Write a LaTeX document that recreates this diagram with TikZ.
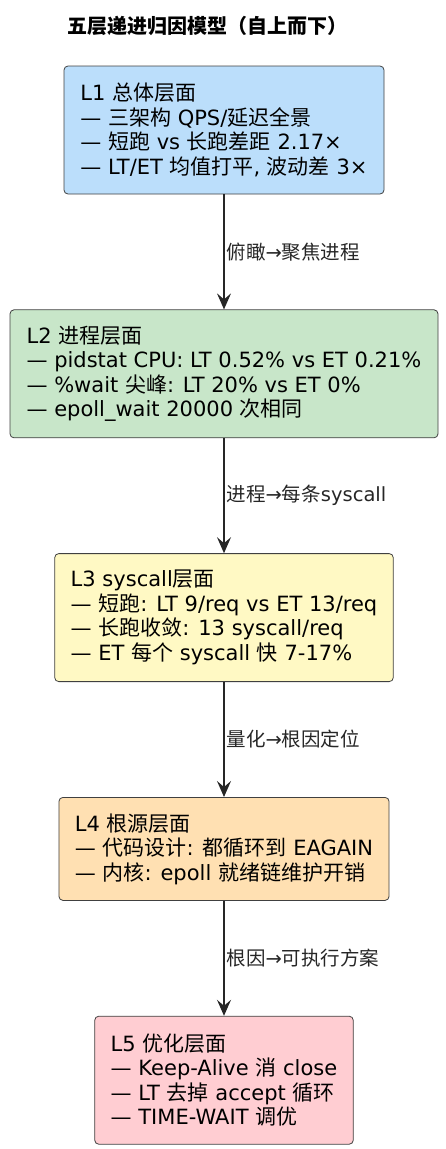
\documentclass[tikz,border=0pt]{standalone}
\usepackage{fontspec}
\setmainfont{DejaVu Sans}
\newfontfamily\zh{Noto Sans CJK SC}
\usetikzlibrary{positioning, arrows.meta}
\definecolor{layerblue}{HTML}{BBDEFB}
\definecolor{layergreen}{HTML}{C8E6C9}
\definecolor{layeryellow}{HTML}{FFF9C4}
\definecolor{layerorange}{HTML}{FFE0B2}
\definecolor{layerred}{HTML}{FFCDD2}
\newcommand\zhtxt[1]{{\zh #1}}
\newcommand\boxfont{\fontsize{21}{24.5}\selectfont}
\newcommand\labelfont{\fontsize{19.5}{22}\selectfont}
\tikzset{
node distance=115pt, % gap between two layers
layer/.style={draw=black!75, line width=0.8pt, rounded corners=4pt, align=left,
  inner xsep=16pt, minimum height=128pt, font=\boxfont}, % one layer box
flow/.style={-{Stealth[length=16pt, width=14pt, inset=6pt]}, line width=1.2pt, black!85},
flowlabel/.style={right, inner xsep=2pt, font=\labelfont}, % text beside an arrow
}

\begin{document}
\begin{tikzpicture}
  \useasboundingbox (0,0) rectangle (445pt,-1149pt);

  \node[font=\fontsize{20}{24}\selectfont\bfseries] (title) at (207.5pt,-26pt) {\zhtxt{五层递进归因模型（自上而下）}};

  \node[layer, fill=layerblue, minimum width=320pt] (L1) at (224pt,-130pt)
    {L1 \zhtxt{总体层面}\\
     — \zhtxt{三架构} QPS/\zhtxt{延迟全景}\\
     — \zhtxt{短跑} vs \zhtxt{长跑差距} 2.17×\\
     — LT/ET \zhtxt{均值打平}, \zhtxt{波动差} 3×};
  \node[layer, fill=layergreen, minimum width=428pt, below=of L1] (L2)
    {L2 \zhtxt{进程层面}\\
     — pidstat CPU: LT 0.52\% vs ET 0.21\%\\
     — \%wait \zhtxt{尖峰}: LT 20\% vs ET 0\%\\
     — epoll\_wait 20000 \zhtxt{次相同}};
  \node[layer, fill=layeryellow, minimum width=338pt, below=of L2] (L3)
    {L3 syscall\zhtxt{层面}\\
     — \zhtxt{短跑}: LT 9/req vs ET 13/req\\
     — \zhtxt{长跑收敛}: 13 syscall/req\\
     — ET \zhtxt{每个} syscall \zhtxt{快} 7-17\%};
  \node[layer, fill=layerorange, minimum width=327pt, minimum height=103pt, below=of L3] (L4)
    {L4 \zhtxt{根源层面}\\
     — \zhtxt{代码设计}: \zhtxt{都循环到} EAGAIN\\
     — \zhtxt{内核}: epoll \zhtxt{就绪链维护开销}};
  \node[layer, fill=layerred, minimum width=257pt, below=of L4] (L5)
    {L5 \zhtxt{优化层面}\\
     — Keep-Alive \zhtxt{消} close\\
     — LT \zhtxt{去掉} accept \zhtxt{循环}\\
     — TIME-WAIT \zhtxt{调优}};

  \draw[flow] (L1) -- node[flowlabel] {\zhtxt{俯瞰}→\zhtxt{聚焦进程}} (L2);
  \draw[flow] (L2) -- node[flowlabel] {\zhtxt{进程}→\zhtxt{每条}syscall} (L3);
  \draw[flow] (L3) -- node[flowlabel] {\zhtxt{量化}→\zhtxt{根因定位}} (L4);
  \draw[flow] (L4) -- node[flowlabel] {\zhtxt{根因}→\zhtxt{可执行方案}} (L5);
\end{tikzpicture}
\end{document}
